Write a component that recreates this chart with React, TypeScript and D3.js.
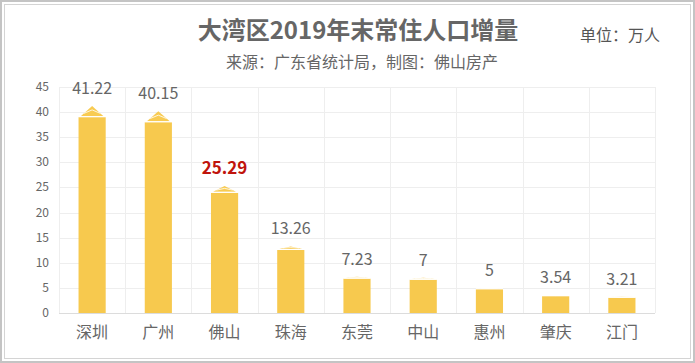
import React from 'react';
import * as d3 from 'd3';

const cities = ['深圳', '广州', '佛山', '珠海', '东莞', '中山', '惠州', '肇庆', '江门'];
const growth = [41.22, 40.15, 25.29, 13.26, 7.23, 7, 5, 3.54, 3.21];
const highlight = '佛山';
const yTicks = [0, 5, 10, 15, 20, 25, 30, 35, 40, 45];

const W = 695;
const H = 363;
const margin = { top: 87, right: 40, bottom: 50, left: 59 };
const FONT = '"Noto Sans CJK SC", "Microsoft YaHei", sans-serif';

export default function App() {
  const x = d3.scaleBand().domain(cities).range([margin.left, W - margin.right]).paddingInner(0).paddingOuter(0);
  const y = d3.scaleLinear().domain([0, 45]).range([H - margin.bottom, margin.top]);
  const bw = x.bandwidth() * 0.41;

  return (
    <svg width={W} height={H} style={{ position: 'fixed', left: 0, top: 0, background: '#fff' }} fontFamily={FONT}>
      <rect x={1} y={1} width={W - 2} height={H - 2} fill="none" stroke="#c4c4c4" strokeWidth={2} />
      <rect x={4.5} y={4.5} width={W - 9} height={H - 9} fill="none" stroke="#d4d4d4" strokeWidth={1} />

      <text x={358} y={39} textAnchor="middle" fontSize={24} fontWeight="bold" fill="#666">大湾区2019年末常住人口增量</text>
      <text x={362} y={68} textAnchor="middle" fontSize={16} fill="#666">来源：广东省统计局，制图：佛山房产</text>
      <text x={620} y={41} textAnchor="middle" fontSize={16} fill="#555">单位：万人</text>

      {/* grid */}
      {yTicks.map(t => (
        <line key={'h' + t} x1={margin.left} x2={W - margin.right} y1={Math.round(y(t)) + 0.5} y2={Math.round(y(t)) + 0.5}
          stroke={t === 0 ? '#dcdcdc' : '#eeeeee'} />
      ))}
      {cities.map((c, i) => (
        <line key={'v' + c} x1={Math.round(x(c)!) + 0.5} x2={Math.round(x(c)!) + 0.5} y1={y(45)} y2={y(0)} stroke="#eeeeee" />
      ))}
      <line x1={W - margin.right + 0.5} x2={W - margin.right + 0.5} y1={y(45)} y2={y(0)} stroke="#eeeeee" />

      {yTicks.map(t => (
        <text key={'yl' + t} x={49} y={y(t) + 4} textAnchor="end" fontSize={12} fill="#666">{t}</text>
      ))}

      {cities.map((c, i) => {
        const v = growth[i];
        const cx = x(c)! + x.bandwidth() / 2;
        const bodyTop = y(v * 0.946);
        const top = y(v);
        const base = y(0);
        const capH = base - top - (base - bodyTop);
        const l = cx - bw / 2;
        const r = cx + bw / 2;
        const cl = cx - bw * 0.42;
        const cr = cx + bw * 0.42;
        const isHi = c === highlight;
        return (
          <g key={c}>
            <rect x={l} y={bodyTop} width={bw} height={base - bodyTop} fill="#F7C94E" />
            <path d={`M${cl},${bodyTop - 1} L${cx},${top} L${cr},${bodyTop - 1} Z`} fill="#F8CB52" />
            <path d={`M${cl + bw * 0.12},${bodyTop - 1 - capH * 0.25} L${cx},${top + capH * 0.35} L${cr - bw * 0.12},${bodyTop - 1 - capH * 0.25}`}
              fill="none" stroke="#fff" strokeWidth={1} opacity={0.8} />
            <line x1={l} x2={r} y1={bodyTop - 0.5} y2={bodyTop - 0.5} stroke="#fff" strokeWidth={1} />
            <text x={cx} y={top - 12} textAnchor="middle" fontSize={isHi ? 17 : 16}
              fontWeight={isHi ? 'bold' : 'normal'} fill={isHi ? '#C0140C' : '#666'}>{v}</text>
            <text x={cx} y={base + 25} textAnchor="middle" fontSize={16} fill="#666">{c}</text>
          </g>
        );
      })}
    </svg>
  );
}
